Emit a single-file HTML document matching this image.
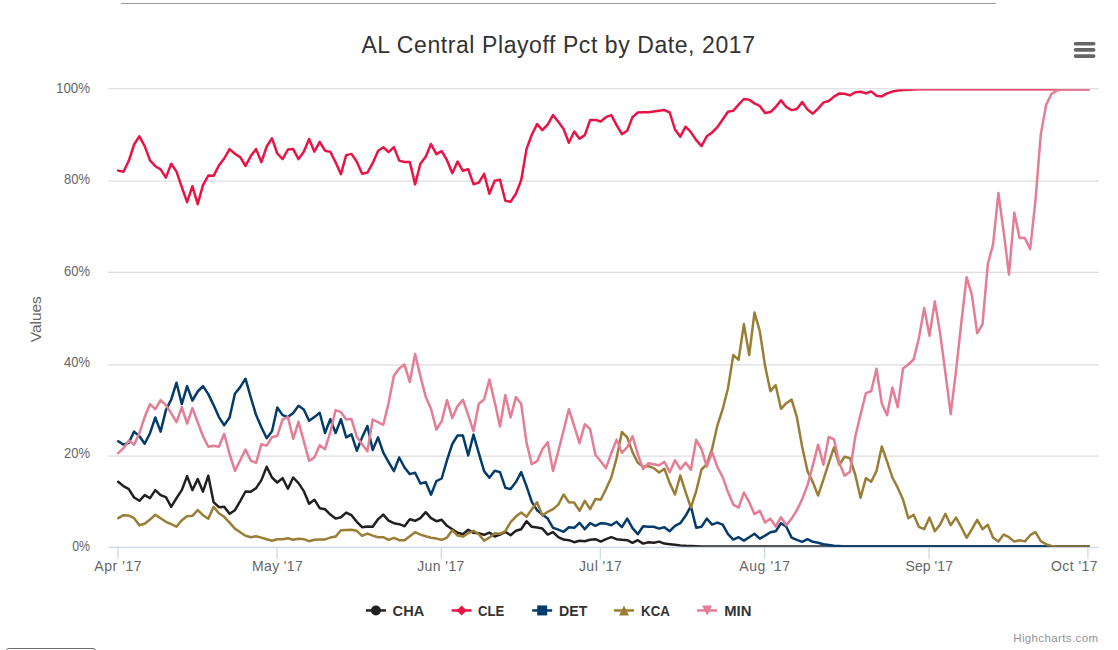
<!DOCTYPE html>
<html><head><meta charset="utf-8"><title>AL Central Playoff Pct by Date, 2017</title>
<style>html,body{margin:0;padding:0;background:#fff;}body{width:1118px;height:650px;overflow:hidden;position:relative;font-family:"Liberation Sans",sans-serif;}svg{position:absolute;left:0;top:0;display:block}text{font-family:"Liberation Sans",sans-serif}</style></head><body>
<svg width="1118" height="650" viewBox="0 0 1118 650">
<defs><clipPath id="pc"><rect x="108.30" y="89.15" width="990.50" height="457.50"/></clipPath></defs>
<rect x="0" y="0" width="1118" height="650" fill="#ffffff"/>
<rect x="121" y="3" width="875" height="1" fill="#9a9a9a"/>
<rect x="6.0" y="648.5" width="90" height="20" rx="3" ry="3" fill="#fff" stroke="#6e6e6e" stroke-width="1"/>
<path d="M 108.3 88.65 L 1098.8 88.65" stroke="#e2e2e2" stroke-width="1.25" fill="none"/>
<path d="M 108.3 181.0 L 1098.8 181.0" stroke="#dcdcdc" stroke-width="1.25" fill="none"/>
<path d="M 108.3 272.3 L 1098.8 272.3" stroke="#dcdcdc" stroke-width="1.25" fill="none"/>
<path d="M 108.3 364.9 L 1098.8 364.9" stroke="#dcdcdc" stroke-width="1.25" fill="none"/>
<path d="M 108.3 456.0 L 1098.8 456.0" stroke="#dcdcdc" stroke-width="1.25" fill="none"/>
<path d="M 108.3 547.25 L 1098.8 547.25" stroke="#ccd6eb" stroke-width="1.25" fill="none"/>
<path d="M 117.9 547.25 L 117.9 559.2" stroke="#ccd6eb" stroke-width="1.25" fill="none"/>
<path d="M 277.0 547.25 L 277.0 559.2" stroke="#ccd6eb" stroke-width="1.25" fill="none"/>
<path d="M 441.3 547.25 L 441.3 559.2" stroke="#ccd6eb" stroke-width="1.25" fill="none"/>
<path d="M 600.3 547.25 L 600.3 559.2" stroke="#ccd6eb" stroke-width="1.25" fill="none"/>
<path d="M 764.7 547.25 L 764.7 559.2" stroke="#ccd6eb" stroke-width="1.25" fill="none"/>
<path d="M 929.1 547.25 L 929.1 559.2" stroke="#ccd6eb" stroke-width="1.25" fill="none"/>
<path d="M 1087.9 547.25 L 1087.9 559.2" stroke="#ccd6eb" stroke-width="1.25" fill="none"/>
<g clip-path="url(#pc)">
<path d="M 118.2 481.7 L 123.5 486.1 L 128.8 489.1 L 134.1 497.5 L 139.4 500.8 L 144.7 495.1 L 150.0 498.1 L 155.3 490.1 L 160.6 495.1 L 165.9 497.1 L 171.2 506.8 L 176.5 498.1 L 181.8 490.1 L 187.1 476.1 L 192.4 490.1 L 197.7 479.1 L 203.0 491.7 L 208.3 475.7 L 213.6 502.2 L 218.9 507.2 L 224.2 506.8 L 229.6 513.8 L 234.9 510.2 L 240.2 501.2 L 245.5 491.5 L 250.8 491.7 L 256.1 488.1 L 261.4 480.1 L 266.7 466.7 L 272.0 477.5 L 277.3 482.5 L 282.6 478.1 L 287.9 488.7 L 293.2 477.5 L 298.5 483.1 L 303.8 491.1 L 309.1 503.8 L 314.4 499.7 L 319.7 508.2 L 325.0 509.2 L 330.3 514.6 L 335.6 518.6 L 340.9 517.2 L 346.2 512.6 L 351.5 515.2 L 356.8 521.8 L 362.1 527.2 L 367.4 526.6 L 372.7 526.8 L 378.0 519.2 L 383.3 514.6 L 388.6 520.6 L 393.9 523.2 L 399.2 524.2 L 404.5 526.2 L 409.8 519.2 L 415.1 520.8 L 420.4 518.2 L 425.7 512.2 L 431.0 518.2 L 436.4 521.2 L 441.7 519.8 L 447.0 525.8 L 452.3 529.2 L 457.6 532.8 L 462.9 534.2 L 468.2 529.8 L 473.5 532.8 L 478.8 533.2 L 484.1 534.8 L 489.4 532.6 L 494.7 536.6 L 500.0 534.6 L 505.3 531.8 L 510.6 535.2 L 515.9 530.8 L 521.2 529.2 L 526.5 521.2 L 531.8 526.8 L 537.1 527.6 L 542.4 528.6 L 547.7 534.6 L 553.0 532.2 L 558.3 537.2 L 563.6 539.6 L 568.9 540.2 L 574.2 542.2 L 579.5 540.8 L 584.8 541.2 L 590.1 539.8 L 595.4 539.2 L 600.7 541.6 L 606.0 539.2 L 611.3 537.2 L 616.6 539.2 L 621.9 539.8 L 627.2 540.2 L 632.5 542.8 L 637.8 540.2 L 643.1 543.6 L 648.5 542.2 L 653.8 542.8 L 659.1 541.6 L 664.4 543.6 L 669.7 544.2 L 675.0 544.8 L 680.3 545.4 L 685.6 545.8 L 690.9 546.0 L 696.2 546.2 L 701.5 546.5 L 706.8 546.5 L 712.1 546.5 L 717.4 546.5 L 722.7 546.5 L 728.0 546.5 L 733.3 546.5 L 738.6 546.5 L 743.9 546.5 L 749.2 546.5 L 754.5 546.5 L 759.8 546.5 L 765.1 546.5 L 770.4 546.5 L 775.7 546.5 L 781.0 546.5 L 786.3 546.5 L 791.6 546.5 L 796.9 546.5 L 802.2 546.5 L 807.5 546.5 L 812.8 546.5 L 818.1 546.5 L 823.4 546.5 L 828.7 546.5 L 834.0 546.5 L 839.3 546.5 L 844.6 546.5 L 849.9 546.5 L 855.2 546.5 L 860.6 546.5 L 865.9 546.5 L 871.2 546.5 L 876.5 546.5 L 881.8 546.5 L 887.1 546.5 L 892.4 546.5 L 897.7 546.5 L 903.0 546.5 L 908.3 546.5 L 913.6 546.5 L 918.9 546.5 L 924.2 546.5 L 929.5 546.5 L 934.8 546.5 L 940.1 546.5 L 945.4 546.5 L 950.7 546.5 L 956.0 546.5 L 961.3 546.5 L 966.6 546.5 L 971.9 546.5 L 977.2 546.5 L 982.5 546.5 L 987.8 546.5 L 993.1 546.5 L 998.4 546.5 L 1003.7 546.5 L 1009.0 546.5 L 1014.3 546.5 L 1019.6 546.5 L 1024.9 546.5 L 1030.2 546.5 L 1035.5 546.5 L 1040.8 546.5 L 1046.1 546.5 L 1051.4 546.5 L 1056.7 546.5 L 1062.0 546.5 L 1067.3 546.5 L 1072.7 546.5 L 1078.0 546.5 L 1083.3 546.5 L 1088.6 546.5" fill="none" stroke="#231f20" stroke-width="2.5" stroke-linejoin="round" stroke-linecap="round"/>
<path d="M 118.2 170.6 L 123.5 171.8 L 128.8 160.8 L 134.1 144.5 L 139.4 136.3 L 144.7 146.1 L 150.0 160.4 L 155.3 166.2 L 160.6 169.4 L 165.9 177.6 L 171.2 163.8 L 176.5 171.6 L 181.8 187.2 L 187.1 202.2 L 192.4 186.2 L 197.7 204.2 L 203.0 185.2 L 208.3 175.6 L 213.6 175.8 L 218.9 165.6 L 224.2 158.5 L 229.6 149.1 L 234.9 153.7 L 240.2 157.1 L 245.5 166.0 L 250.8 156.1 L 256.1 149.1 L 261.4 162.2 L 266.7 146.5 L 272.0 138.3 L 277.3 153.5 L 282.6 159.1 L 287.9 149.5 L 293.2 149.1 L 298.5 159.1 L 303.8 151.7 L 309.1 139.1 L 314.4 151.7 L 319.7 141.9 L 325.0 150.7 L 330.3 151.9 L 335.6 162.2 L 340.9 174.2 L 346.2 155.1 L 351.5 153.9 L 356.8 161.8 L 362.1 173.8 L 367.4 172.6 L 372.7 163.2 L 378.0 151.1 L 383.3 147.3 L 388.6 152.1 L 393.9 147.1 L 399.2 160.6 L 404.5 162.0 L 409.8 162.0 L 415.1 184.4 L 420.4 163.8 L 425.7 156.7 L 431.0 144.1 L 436.4 154.1 L 441.7 151.1 L 447.0 160.2 L 452.3 173.2 L 457.6 161.6 L 462.9 170.8 L 468.2 169.2 L 473.5 184.2 L 478.8 182.6 L 484.1 173.8 L 489.4 193.8 L 494.7 180.8 L 500.0 179.8 L 505.3 200.8 L 510.6 201.8 L 515.9 193.8 L 521.2 180.2 L 526.5 149.1 L 531.8 134.7 L 537.1 124.1 L 542.4 130.1 L 547.7 124.7 L 553.0 115.1 L 558.3 121.7 L 563.6 129.1 L 568.9 142.7 L 574.2 131.5 L 579.5 138.7 L 584.8 135.1 L 590.1 120.1 L 595.4 119.9 L 600.7 121.5 L 606.0 117.1 L 611.3 115.1 L 616.6 125.1 L 621.9 134.1 L 627.2 130.7 L 632.5 117.1 L 637.8 112.5 L 643.1 112.3 L 648.5 112.3 L 653.8 111.5 L 659.1 110.7 L 664.4 110.1 L 669.7 112.5 L 675.0 129.5 L 680.3 136.7 L 685.6 126.7 L 690.9 132.1 L 696.2 140.1 L 701.5 146.1 L 706.8 136.3 L 712.1 132.5 L 717.4 127.1 L 722.7 119.5 L 728.0 111.7 L 733.3 110.7 L 738.6 104.6 L 743.9 99.0 L 749.2 99.8 L 754.5 103.4 L 759.8 106.0 L 765.1 113.1 L 770.4 112.1 L 775.7 107.0 L 781.0 100.4 L 786.3 107.0 L 791.6 110.1 L 796.9 109.0 L 802.2 102.0 L 807.5 109.6 L 812.8 113.7 L 818.1 108.6 L 823.4 102.6 L 828.7 101.0 L 834.0 96.6 L 839.3 93.4 L 844.6 93.8 L 849.9 95.4 L 855.2 92.2 L 860.6 91.8 L 865.9 93.4 L 871.2 91.4 L 876.5 95.8 L 881.8 96.4 L 887.1 93.4 L 892.4 91.6 L 897.7 90.6 L 903.0 90.0 L 908.3 89.8 L 913.6 89.6 L 918.9 89.3 L 924.2 89.3 L 929.5 89.3 L 934.8 89.3 L 940.1 89.3 L 945.4 89.3 L 950.7 89.3 L 956.0 89.3 L 961.3 89.3 L 966.6 89.3 L 971.9 89.3 L 977.2 89.3 L 982.5 89.3 L 987.8 89.3 L 993.1 89.3 L 998.4 89.3 L 1003.7 89.3 L 1009.0 89.3 L 1014.3 89.3 L 1019.6 89.3 L 1024.9 89.3 L 1030.2 89.3 L 1035.5 89.3 L 1040.8 89.3 L 1046.1 89.3 L 1051.4 89.3 L 1056.7 89.3 L 1062.0 89.3 L 1067.3 89.3 L 1072.7 89.3 L 1078.0 89.3 L 1083.3 89.3 L 1088.6 89.3" fill="none" stroke="#e81446" stroke-width="2.5" stroke-linejoin="round" stroke-linecap="round"/>
<path d="M 118.2 441.2 L 123.5 444.6 L 128.8 442.8 L 134.1 431.6 L 139.4 436.2 L 144.7 443.8 L 150.0 433.2 L 155.3 417.5 L 160.6 431.6 L 165.9 410.1 L 171.2 399.5 L 176.5 382.7 L 181.8 404.1 L 187.1 386.1 L 192.4 400.5 L 197.7 391.5 L 203.0 386.1 L 208.3 394.1 L 213.6 405.1 L 218.9 417.1 L 224.2 425.2 L 229.6 417.5 L 234.9 393.7 L 240.2 387.1 L 245.5 378.7 L 250.8 397.5 L 256.1 415.1 L 261.4 427.2 L 266.7 438.2 L 272.0 431.2 L 277.3 407.5 L 282.6 415.1 L 287.9 417.1 L 293.2 413.1 L 298.5 405.7 L 303.8 409.5 L 309.1 420.8 L 314.4 417.1 L 319.7 412.7 L 325.0 433.0 L 330.3 419.2 L 335.6 433.0 L 340.9 419.2 L 346.2 437.4 L 351.5 434.4 L 356.8 450.7 L 362.1 437.4 L 367.4 426.0 L 372.7 450.1 L 378.0 437.4 L 383.3 452.7 L 388.6 462.1 L 393.9 471.1 L 399.2 457.5 L 404.5 467.5 L 409.8 474.1 L 415.1 472.7 L 420.4 483.5 L 425.7 482.1 L 431.0 494.7 L 436.4 481.1 L 441.7 478.5 L 447.0 460.1 L 452.3 444.0 L 457.6 435.4 L 462.9 435.6 L 468.2 455.5 L 473.5 434.6 L 478.8 453.1 L 484.1 471.1 L 489.4 477.7 L 494.7 470.7 L 500.0 472.1 L 505.3 487.7 L 510.6 489.1 L 515.9 482.1 L 521.2 472.1 L 526.5 486.1 L 531.8 501.8 L 537.1 510.2 L 542.4 514.6 L 547.7 518.6 L 553.0 527.8 L 558.3 529.6 L 563.6 531.8 L 568.9 527.2 L 574.2 527.8 L 579.5 522.8 L 584.8 529.2 L 590.1 523.2 L 595.4 525.8 L 600.7 523.2 L 606.0 523.6 L 611.3 525.2 L 616.6 521.8 L 621.9 527.2 L 627.2 518.6 L 632.5 528.2 L 637.8 534.2 L 643.1 526.2 L 648.5 526.8 L 653.8 526.8 L 659.1 528.6 L 664.4 527.2 L 669.7 531.2 L 675.0 525.8 L 680.3 523.2 L 685.6 515.8 L 690.9 506.2 L 696.2 527.8 L 701.5 526.8 L 706.8 518.6 L 712.1 524.6 L 717.4 522.6 L 722.7 524.6 L 728.0 534.2 L 733.3 539.6 L 738.6 537.2 L 743.9 540.6 L 749.2 537.2 L 754.5 533.8 L 759.8 538.6 L 765.1 535.6 L 770.4 532.2 L 775.7 531.2 L 781.0 523.2 L 786.3 526.8 L 791.6 537.6 L 796.9 539.8 L 802.2 541.8 L 807.5 539.2 L 812.8 541.8 L 818.1 542.8 L 823.4 544.2 L 828.7 545.0 L 834.0 545.8 L 839.3 546.0 L 844.6 546.5 L 849.9 546.5 L 855.2 546.5 L 860.6 546.5 L 865.9 546.5 L 871.2 546.5 L 876.5 546.5 L 881.8 546.5 L 887.1 546.5 L 892.4 546.5 L 897.7 546.5 L 903.0 546.5 L 908.3 546.5 L 913.6 546.5 L 918.9 546.5 L 924.2 546.5 L 929.5 546.5 L 934.8 546.5 L 940.1 546.5 L 945.4 546.5 L 950.7 546.5 L 956.0 546.5 L 961.3 546.5 L 966.6 546.5 L 971.9 546.5 L 977.2 546.5 L 982.5 546.5 L 987.8 546.5 L 993.1 546.5 L 998.4 546.5 L 1003.7 546.5 L 1009.0 546.5 L 1014.3 546.5 L 1019.6 546.5 L 1024.9 546.5 L 1030.2 546.5 L 1035.5 546.5 L 1040.8 546.5 L 1046.1 546.5 L 1051.4 546.5 L 1056.7 546.5 L 1062.0 546.5 L 1067.3 546.5 L 1072.7 546.5 L 1078.0 546.5 L 1083.3 546.5 L 1088.6 546.5" fill="none" stroke="#033c6a" stroke-width="2.5" stroke-linejoin="round" stroke-linecap="round"/>
<path d="M 118.2 518.2 L 123.5 515.2 L 128.8 515.6 L 134.1 518.2 L 139.4 525.2 L 144.7 523.8 L 150.0 519.6 L 155.3 514.8 L 160.6 518.2 L 165.9 521.8 L 171.2 524.2 L 176.5 526.6 L 181.8 520.2 L 187.1 516.2 L 192.4 515.8 L 197.7 510.2 L 203.0 515.2 L 208.3 518.8 L 213.6 506.8 L 218.9 513.2 L 224.2 516.8 L 229.6 522.6 L 234.9 528.6 L 240.2 532.2 L 245.5 535.8 L 250.8 537.2 L 256.1 536.2 L 261.4 537.6 L 266.7 539.2 L 272.0 540.8 L 277.3 539.2 L 282.6 539.2 L 287.9 538.2 L 293.2 539.8 L 298.5 538.8 L 303.8 539.2 L 309.1 541.2 L 314.4 539.8 L 319.7 539.6 L 325.0 539.4 L 330.3 537.6 L 335.6 536.6 L 340.9 530.2 L 346.2 530.0 L 351.5 529.8 L 356.8 530.8 L 362.1 535.8 L 367.4 533.6 L 372.7 535.6 L 378.0 537.2 L 383.3 537.2 L 388.6 539.8 L 393.9 537.8 L 399.2 540.2 L 404.5 540.2 L 409.8 536.2 L 415.1 532.2 L 420.4 534.6 L 425.7 536.2 L 431.0 537.8 L 436.4 538.6 L 441.7 539.8 L 447.0 537.6 L 452.3 530.2 L 457.6 535.6 L 462.9 536.6 L 468.2 533.2 L 473.5 530.8 L 478.8 534.2 L 484.1 540.6 L 489.4 537.6 L 494.7 533.2 L 500.0 533.8 L 505.3 531.2 L 510.6 522.2 L 515.9 516.6 L 521.2 512.6 L 526.5 516.8 L 531.8 509.2 L 537.1 502.2 L 542.4 515.6 L 547.7 511.8 L 553.0 509.2 L 558.3 504.6 L 563.6 494.5 L 568.9 502.2 L 574.2 502.6 L 579.5 510.8 L 584.8 500.8 L 590.1 509.2 L 595.4 499.1 L 600.7 499.7 L 606.0 489.1 L 611.3 477.5 L 616.6 458.1 L 621.9 432.0 L 627.2 437.4 L 632.5 452.1 L 637.8 462.7 L 643.1 466.7 L 648.5 466.1 L 653.8 468.1 L 659.1 472.5 L 664.4 468.7 L 669.7 483.1 L 675.0 494.5 L 680.3 475.5 L 685.6 492.1 L 690.9 507.6 L 696.2 491.1 L 701.5 469.5 L 706.8 464.1 L 712.1 449.0 L 717.4 425.3 L 722.7 409.2 L 728.0 388.2 L 733.3 355.1 L 738.6 359.7 L 743.9 324.1 L 749.2 355.1 L 754.5 312.6 L 759.8 331.1 L 765.1 366.1 L 770.4 391.2 L 775.7 385.2 L 781.0 408.8 L 786.3 403.2 L 791.6 399.6 L 796.9 417.2 L 802.2 447.0 L 807.5 471.1 L 812.8 482.1 L 818.1 495.5 L 823.4 479.7 L 828.7 463.1 L 834.0 447.4 L 839.3 464.7 L 844.6 456.7 L 849.9 458.1 L 855.2 474.5 L 860.6 497.7 L 865.9 478.1 L 871.2 481.7 L 876.5 471.1 L 881.8 446.4 L 887.1 461.7 L 892.4 477.5 L 897.7 487.7 L 903.0 499.5 L 908.3 518.2 L 913.6 514.8 L 918.9 526.8 L 924.2 529.2 L 929.5 517.6 L 934.8 531.2 L 940.1 524.6 L 945.4 513.8 L 950.7 525.2 L 956.0 517.6 L 961.3 527.2 L 966.6 537.8 L 971.9 529.2 L 977.2 519.8 L 982.5 529.2 L 987.8 524.8 L 993.1 537.8 L 998.4 541.6 L 1003.7 534.6 L 1009.0 537.2 L 1014.3 541.6 L 1019.6 540.2 L 1024.9 541.4 L 1030.2 535.2 L 1035.5 532.2 L 1040.8 541.2 L 1046.1 544.2 L 1051.4 546.0 L 1056.7 546.5 L 1062.0 546.5 L 1067.3 546.5 L 1072.7 546.5 L 1078.0 546.5 L 1083.3 546.5 L 1088.6 546.5" fill="none" stroke="#9a7e35" stroke-width="2.5" stroke-linejoin="round" stroke-linecap="round"/>
<path d="M 118.2 453.2 L 123.5 448.2 L 128.8 440.6 L 134.1 444.8 L 139.4 433.2 L 144.7 417.1 L 150.0 404.3 L 155.3 409.1 L 160.6 400.1 L 165.9 405.1 L 171.2 413.1 L 176.5 422.2 L 181.8 407.1 L 187.1 423.6 L 192.4 408.1 L 197.7 422.2 L 203.0 436.2 L 208.3 446.8 L 213.6 445.8 L 218.9 446.8 L 224.2 433.8 L 229.6 454.2 L 234.9 470.9 L 240.2 460.2 L 245.5 449.6 L 250.8 460.6 L 256.1 462.8 L 261.4 444.2 L 266.7 445.6 L 272.0 437.2 L 277.3 435.8 L 282.6 419.5 L 287.9 417.1 L 293.2 438.8 L 298.5 421.8 L 303.8 441.2 L 309.1 460.8 L 314.4 457.6 L 319.7 445.2 L 325.0 449.2 L 330.3 432.2 L 335.6 410.1 L 340.9 412.1 L 346.2 419.5 L 351.5 419.1 L 356.8 436.8 L 362.1 444.2 L 367.4 451.2 L 372.7 419.5 L 378.0 422.2 L 383.3 424.8 L 388.6 403.1 L 393.9 375.7 L 399.2 368.4 L 404.5 364.6 L 409.8 382.1 L 415.1 354.0 L 420.4 376.1 L 425.7 396.7 L 431.0 408.7 L 436.4 429.6 L 441.7 421.2 L 447.0 400.1 L 452.3 418.1 L 457.6 406.1 L 462.9 399.7 L 468.2 415.1 L 473.5 431.2 L 478.8 403.7 L 484.1 399.5 L 489.4 379.5 L 494.7 402.1 L 500.0 426.6 L 505.3 395.1 L 510.6 417.5 L 515.9 397.1 L 521.2 404.1 L 526.5 442.6 L 531.8 464.2 L 537.1 461.2 L 542.4 449.2 L 547.7 442.2 L 553.0 470.9 L 558.3 451.2 L 563.6 430.2 L 568.9 409.1 L 574.2 426.2 L 579.5 443.2 L 584.8 424.2 L 590.1 429.2 L 595.4 454.8 L 600.7 461.2 L 606.0 468.2 L 611.3 453.2 L 616.6 439.6 L 621.9 452.8 L 627.2 447.2 L 632.5 436.2 L 637.8 454.2 L 643.1 469.2 L 648.5 463.2 L 653.8 464.2 L 659.1 465.2 L 664.4 461.8 L 669.7 472.3 L 675.0 460.2 L 680.3 469.2 L 685.6 462.6 L 690.9 469.8 L 696.2 439.8 L 701.5 449.2 L 706.8 466.6 L 712.1 452.2 L 717.4 467.2 L 722.7 477.1 L 728.0 492.1 L 733.3 504.6 L 738.6 507.6 L 743.9 492.5 L 749.2 502.2 L 754.5 514.2 L 759.8 510.8 L 765.1 522.6 L 770.4 518.6 L 775.7 526.6 L 781.0 517.2 L 786.3 525.2 L 791.6 518.6 L 796.9 510.2 L 802.2 499.1 L 807.5 485.1 L 812.8 465.7 L 818.1 444.6 L 823.4 464.7 L 828.7 437.0 L 834.0 439.4 L 839.3 463.1 L 844.6 475.7 L 849.9 471.7 L 855.2 437.0 L 860.6 414.2 L 865.9 393.2 L 871.2 391.2 L 876.5 368.7 L 881.8 403.6 L 887.1 415.2 L 892.4 387.6 L 897.7 407.2 L 903.0 368.5 L 908.3 364.5 L 913.6 359.5 L 918.9 338.1 L 924.2 308.0 L 929.5 335.7 L 934.8 301.4 L 940.1 333.1 L 945.4 373.1 L 950.7 414.2 L 956.0 371.1 L 961.3 323.0 L 966.6 277.2 L 971.9 295.2 L 977.2 333.3 L 982.5 324.3 L 987.8 264.2 L 993.1 244.1 L 998.4 193.0 L 1003.7 232.1 L 1009.0 274.6 L 1014.3 212.5 L 1019.6 238.1 L 1024.9 238.1 L 1030.2 249.1 L 1035.5 200.1 L 1040.8 134.1 L 1046.1 105.0 L 1051.4 94.0 L 1056.7 90.6 L 1062.0 89.6 L 1067.3 89.3 L 1072.7 89.3 L 1078.0 89.3 L 1083.3 89.3 L 1088.6 89.3" fill="none" stroke="#e47d96" stroke-width="2.5" stroke-linejoin="round" stroke-linecap="round"/>
</g>
<text id="title" x="558.2" y="53.2" text-anchor="middle" font-size="23px" fill="#333333" textLength="393.5" lengthAdjust="spacing">AL Central Playoff Pct by Date, 2017</text>
<text class="yl" x="56.0" y="92.8" font-size="13.75px" fill="#666666" textLength="34.1" lengthAdjust="spacingAndGlyphs">100%</text>
<text class="yl" x="64.1" y="183.8" font-size="13.75px" fill="#666666" textLength="26.0" lengthAdjust="spacingAndGlyphs">80%</text>
<text class="yl" x="64.1" y="275.9" font-size="13.75px" fill="#666666" textLength="26.0" lengthAdjust="spacingAndGlyphs">60%</text>
<text class="yl" x="64.1" y="366.8" font-size="13.75px" fill="#666666" textLength="26.0" lengthAdjust="spacingAndGlyphs">40%</text>
<text class="yl" x="64.1" y="457.8" font-size="13.75px" fill="#666666" textLength="26.0" lengthAdjust="spacingAndGlyphs">20%</text>
<text class="yl" x="72.2" y="550.9" font-size="13.75px" fill="#666666" textLength="17.9" lengthAdjust="spacingAndGlyphs">0%</text>
<text class="xl" x="94.3" y="570.9" font-size="14px" fill="#666666" textLength="47.3" lengthAdjust="spacing">Apr '17</text>
<text class="xl" x="252.1" y="570.9" font-size="14px" fill="#666666" textLength="50.6" lengthAdjust="spacing">May '17</text>
<text class="xl" x="417.2" y="570.9" font-size="14px" fill="#666666" textLength="47.2" lengthAdjust="spacing">Jun '17</text>
<text class="xl" x="578.9" y="570.9" font-size="14px" fill="#666666" textLength="42.9" lengthAdjust="spacing">Jul '17</text>
<text class="xl" x="739.2" y="570.9" font-size="14px" fill="#666666" textLength="50.8" lengthAdjust="spacing">Aug '17</text>
<text class="xl" x="905.5" y="570.9" font-size="14px" fill="#666666" textLength="47.5" lengthAdjust="spacing">Sep '17</text>
<text class="xl" x="1051.0" y="570.9" font-size="14px" fill="#666666" textLength="46.6" lengthAdjust="spacing">Oct '17</text>
<text id="ytitle" transform="translate(41.3,319.2) rotate(-90)" text-anchor="middle" font-size="15.5px" fill="#666666" textLength="46" lengthAdjust="spacing">Values</text>
<path d="M 365.9 610.45 L 385.9 610.45" stroke="#231f20" stroke-width="2.5" fill="none"/>
<circle cx="375.9" cy="610.45" r="5" fill="#231f20"/>
<text class="lg" x="392.6" y="615.9" font-size="15px" font-weight="bold" fill="#333333" textLength="31.6" lengthAdjust="spacingAndGlyphs">CHA</text>
<path d="M 451.6 610.45 L 471.6 610.45" stroke="#e81446" stroke-width="2.5" fill="none"/>
<path d="M 461.6 605.45 L 466.6 610.45 L 461.6 615.45 L 456.6 610.45 Z" fill="#e81446"/>
<text class="lg" x="478.1" y="615.9" font-size="15px" font-weight="bold" fill="#333333" textLength="26.3" lengthAdjust="spacingAndGlyphs">CLE</text>
<path d="M 532.2 610.45 L 552.2 610.45" stroke="#033c6a" stroke-width="2.5" fill="none"/>
<rect x="537.2" y="605.45" width="10" height="10" fill="#033c6a"/>
<text class="lg" x="559.1" y="615.9" font-size="15px" font-weight="bold" fill="#333333" textLength="28.2" lengthAdjust="spacingAndGlyphs">DET</text>
<path d="M 614.0 610.45 L 634.0 610.45" stroke="#9a7e35" stroke-width="2.5" fill="none"/>
<path d="M 624.0 605.45 L 629.0 615.45 L 619.0 615.45 Z" fill="#9a7e35"/>
<text class="lg" x="641.1" y="615.9" font-size="15px" font-weight="bold" fill="#333333" textLength="28.9" lengthAdjust="spacingAndGlyphs">KCA</text>
<path d="M 697.1 610.45 L 717.1 610.45" stroke="#e47d96" stroke-width="2.5" fill="none"/>
<path d="M 702.1 605.45 L 712.1 605.45 L 707.1 615.45 Z" fill="#e47d96"/>
<text class="lg" x="724.2" y="615.9" font-size="15px" font-weight="bold" fill="#333333" textLength="27.2" lengthAdjust="spacingAndGlyphs">MIN</text>
<text id="cred" x="1013.2" y="642.3" font-size="11.5px" fill="#929292" textLength="84.8" lengthAdjust="spacing">Highcharts.com</text>
<path d="M 1075.5 43.7 L 1093.7 43.7 M 1075.5 49.9 L 1093.7 49.9 M 1075.5 56.1 L 1093.7 56.1" stroke="#666666" stroke-width="3.6" stroke-linecap="round" fill="none"/>
</svg>
</body></html>
